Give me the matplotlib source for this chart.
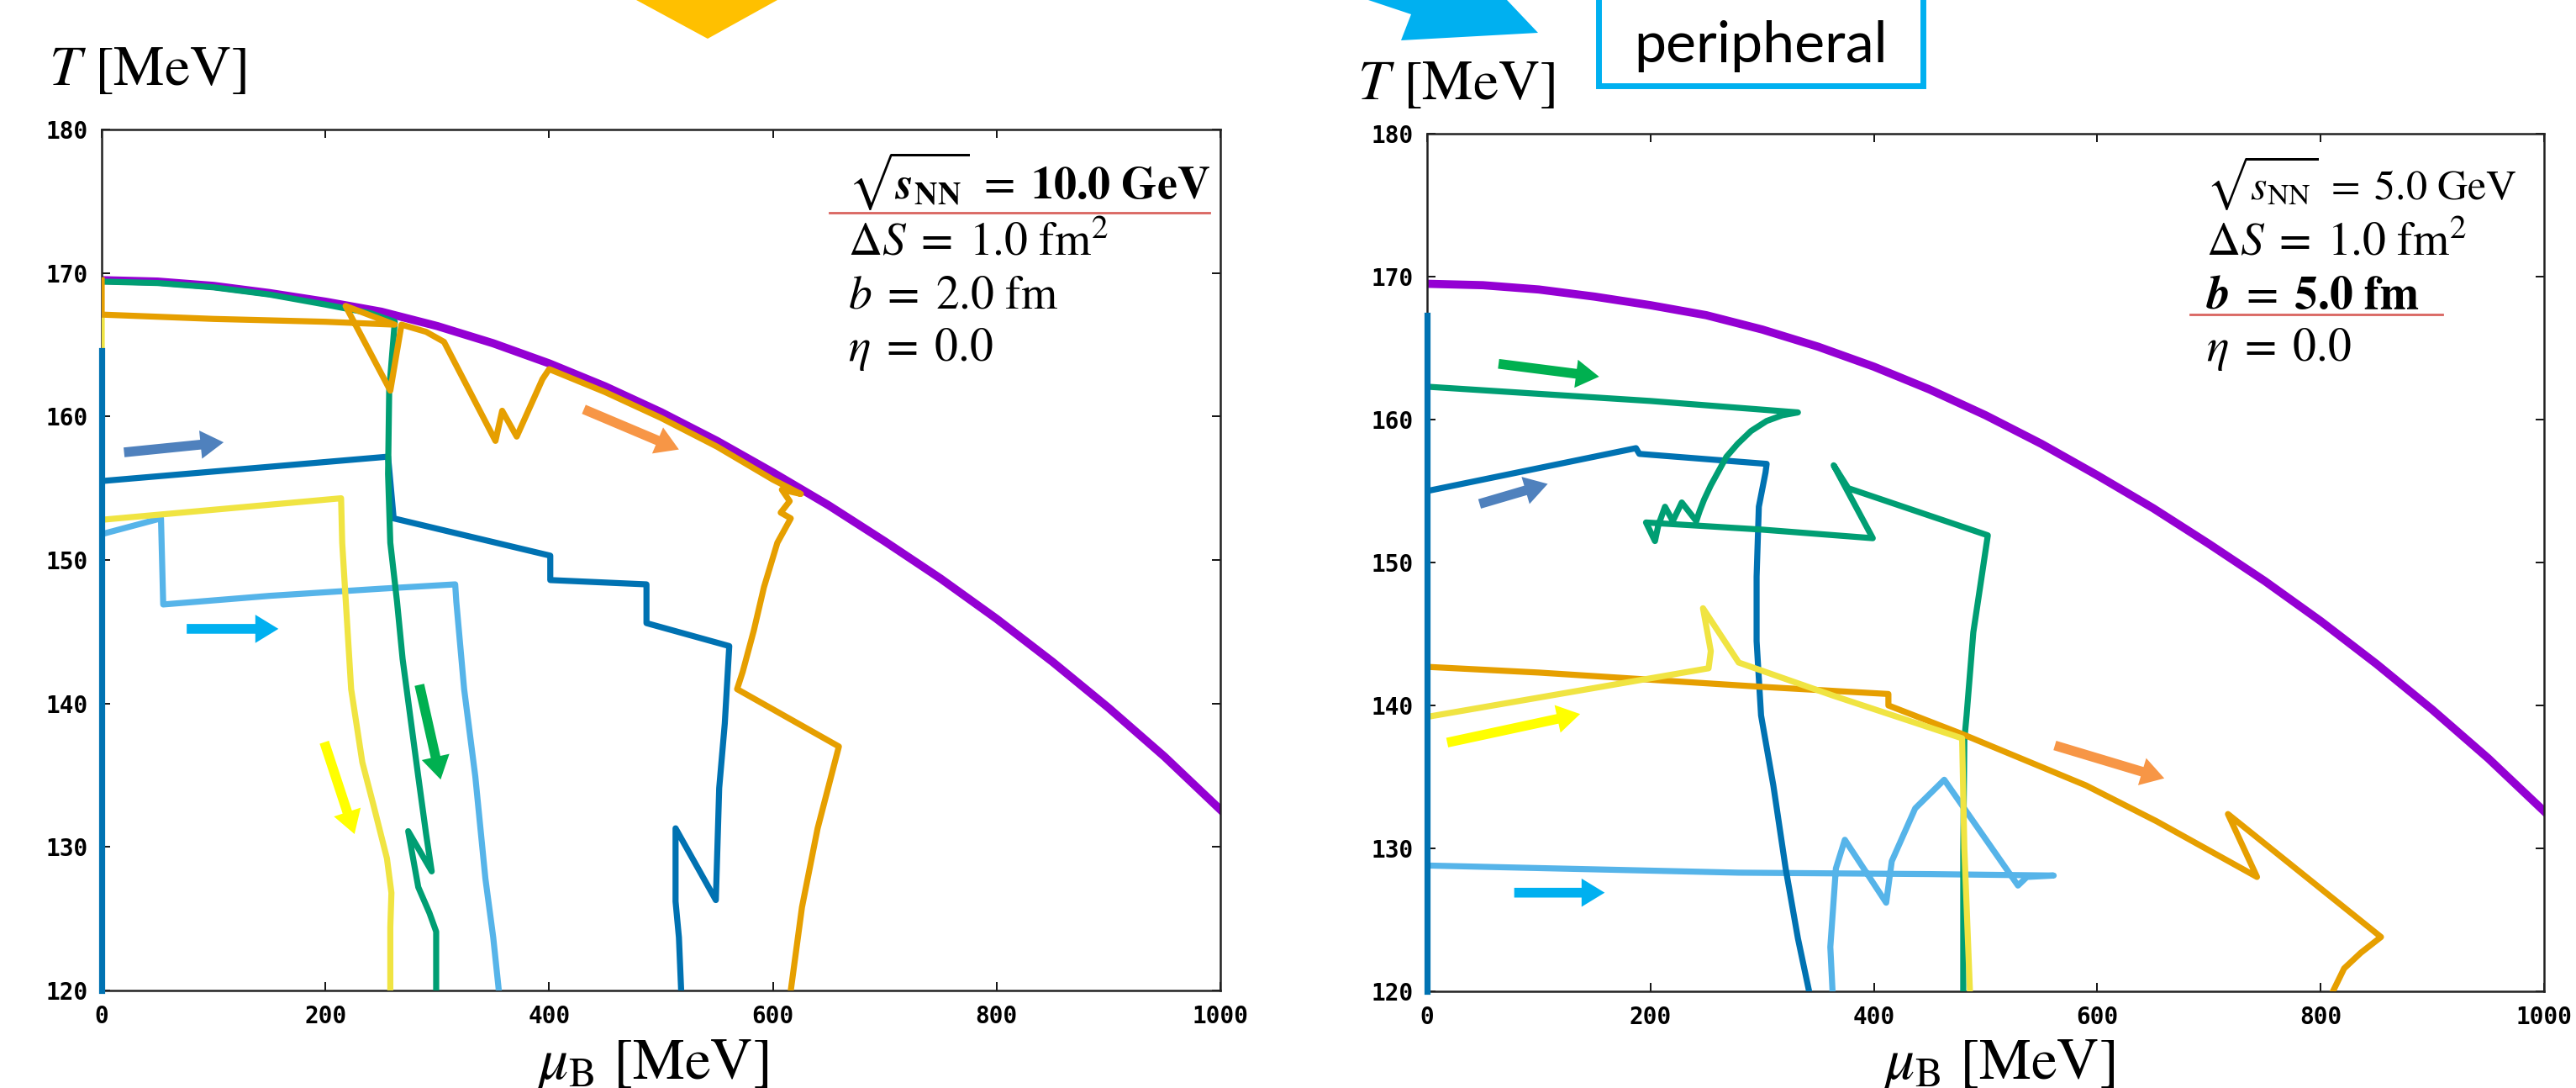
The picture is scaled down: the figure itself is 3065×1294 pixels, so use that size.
import matplotlib
matplotlib.use("Agg")
import matplotlib.pyplot as plt
from matplotlib.lines import Line2D
from matplotlib.patches import Polygon, Rectangle

plt.rcParams['mathtext.fontset'] = 'stix'
plt.rcParams['font.family'] = ['STIXGeneral', 'DejaVu Serif']

W, H = 3065, 1294

# ---- data ----
# boundary curve (same in both panels)
mu_bound = [0, 50, 100, 150, 200, 250, 300, 350, 400, 450, 500,
            550, 600, 650, 700, 750, 800, 850, 900, 950, 1000]
T_bound = [169.5, 169.4, 169.1, 168.6, 168.0, 167.3, 166.3, 165.1, 163.7, 162.1, 160.3,
           158.3, 156.1, 153.8, 151.3, 148.7, 145.9, 142.9, 139.7, 136.3, 132.6]

# left panel: sqrt(s)=10 GeV, b=2 fm
L_dblue_mu = [0, 256, 261, 401, 401, 487, 487, 561, 557, 552, 549, 513, 513, 516, 518]
L_dblue_T = [155.5, 157.2, 152.9, 150.3, 148.6, 148.3, 145.6, 144.0, 138.6, 134.1, 126.3,
             131.3, 126.2, 123.7, 120.0]
L_dblue_axis_mu = [0, 0]
L_dblue_axis_T = [164.6, 120.0]

L_lblue_mu = [0, 53, 55, 150, 250, 316, 317, 324, 334, 343, 350, 355]
L_lblue_T = [151.8, 152.9, 146.9, 147.5, 148.0, 148.3, 147.1, 141.0, 134.9, 127.8, 123.7, 120.0]

L_yellow_mu = [0, 0, 100, 214, 215, 219, 223, 233, 243, 255, 259, 258, 258]
L_yellow_T = [167.0, 152.8, 153.5, 154.3, 151.2, 146.1, 141.0, 135.9, 132.9, 129.2, 126.8,
              124.4, 120.0]

L_green_mu = [0, 50, 100, 150, 200, 240, 262, 257, 256, 258, 264, 269, 276, 283, 290,
              295, 274, 283, 293, 299, 299]
L_green_T = [169.4, 169.3, 169.0, 168.5, 167.8, 167.2, 166.6, 161.8, 156.0, 151.2, 147.1,
             143.1, 139.0, 134.9, 130.9, 128.3, 131.1, 127.2, 125.4, 124.1, 120.0]

L_orange_mu = [0, 0, 100, 200, 262, 218, 258, 268, 290, 306, 352, 358, 371, 394, 400,
               450, 500, 550, 600, 625, 608, 615, 607, 616, 604, 592, 583, 573, 568,
               659, 640, 626, 616]
L_orange_T = [169.5, 167.1, 166.8, 166.6, 166.4, 167.7, 161.8, 166.4, 165.9, 165.2, 158.3,
              160.4, 158.6, 162.6, 163.3, 161.7, 159.9, 157.9, 155.6, 154.6, 154.9, 154.1,
              153.3, 152.9, 151.2, 148.1, 145.1, 142.2, 141.0, 137.0, 131.3, 125.8, 120.0]

# right panel: sqrt(s)=5 GeV, b=5 fm
R_dblue_mu = [0, 187, 190, 304, 303, 297, 295, 295, 299, 310, 321, 332, 342]
R_dblue_T = [155.0, 158.0, 157.6, 156.9, 156.3, 153.9, 149.0, 144.5, 139.3, 134.4, 128.6,
             123.7, 120.0]
R_dblue_axis_mu = [0, 0]
R_dblue_axis_T = [167.3, 120.0]

R_lblue_mu = [0, 168, 279, 450, 561, 537, 529, 463, 437, 416, 411, 374, 366, 361, 363]
R_lblue_T = [128.8, 128.5, 128.3, 128.2, 128.1, 128.0, 127.4, 134.8, 132.8, 129.1, 126.2,
             130.6, 128.6, 123.1, 120.0]

R_green_mu = [0, 100, 200, 332, 318, 304, 290, 278, 268, 261, 254, 248, 244, 241, 228, 220,
              213, 207, 204, 196, 300, 399, 364, 377, 502, 498, 489, 483, 481, 480, 480]
R_green_T = [162.3, 161.8, 161.3, 160.5, 160.3, 159.9, 159.2, 158.3, 157.4, 156.4, 155.4,
             154.4, 153.6, 152.9, 154.2, 152.9, 153.9, 152.6, 151.5, 152.8, 152.3, 151.7,
             156.8, 155.2, 151.9, 149.8, 145.1, 139.3, 137.6, 129.8, 120.0]

R_orange_mu = [0, 100, 200, 300, 413, 413, 479, 590, 653, 743, 717, 854, 836, 821, 811]
R_orange_T = [142.7, 142.3, 141.8, 141.3, 140.8, 140.0, 138.0, 134.4, 131.9, 128.0, 132.4,
              123.8, 122.7, 121.6, 120.0]

R_yellow_mu = [0, 252, 254, 247, 279, 363, 479, 481, 486]
R_yellow_T = [139.2, 142.6, 143.8, 146.8, 143.0, 140.7, 137.7, 130.0, 120.0]

# direction arrows (tail, head) in data units
L_arrows = [((20, 157.5), (109, 158.2), '#4F81BD'),
            ((431, 160.5), (516, 157.7), '#F79646'),
            ((76, 145.2), (158, 145.2), '#00B0F0'),
            ((199, 137.3), (226, 130.9), '#FFFF00'),
            ((284, 141.3), (303, 134.7), '#00B050')]
R_arrows = [((64, 163.9), (154, 163.0), '#00B050'),
            ((47, 154.1), (108, 155.5), '#4F81BD'),
            ((18, 137.4), (137, 139.4), '#FFFF00'),
            ((562, 137.2), (660, 134.9), '#F79646'),
            ((78, 126.9), (159, 126.9), '#00B0F0')]

x_ticks = [0, 200, 400, 600, 800, 1000]
y_ticks = [120, 130, 140, 150, 160, 170, 180]

PURPLE = '#9400D3'
DBLUE = '#0072B2'
ORANGE = '#E69F00'
LBLUE = '#56B4E9'
GREEN = '#009E73'
YELLOW = '#F0E442'

fig = plt.figure(figsize=(W / 100, H / 100), dpi=100)


def px(x, y):
    return x / W, 1 - y / H


def setup(ax):
    ax.set_xlim(0, 1000)
    ax.set_ylim(120, 180)
    ax.set_xticks(x_ticks)
    ax.set_yticks(y_ticks)
    ax.tick_params(direction='in', length=7.5, width=1.3, top=True, right=True,
                   labelsize=20, pad=12)
    for lab in ax.get_xticklabels() + ax.get_yticklabels():
        lab.set_fontfamily('DejaVu Sans Mono')
        lab.set_fontweight('bold')
    for s in ax.spines.values():
        s.set_linewidth(1.8)
        s.set_color('#222222')


def draw_arrows(ax, arrows):
    for tail, head, c in arrows:
        ax.annotate('', xy=head, xytext=tail,
                    arrowprops=dict(arrowstyle='simple,head_length=0.9,head_width=1.1,tail_width=0.38',
                                    color=c, lw=0, mutation_scale=22, shrinkA=0, shrinkB=0))


lw = 5.2

# left panel
ax1 = fig.add_axes([121 / W, 1 - 1178 / H, 1331 / W, 1024 / H])
setup(ax1)
ax1.plot(mu_bound, T_bound, color=PURPLE, lw=7, zorder=2)
ax1.plot(L_lblue_mu, L_lblue_T, color=LBLUE, lw=lw, zorder=3)
ax1.plot(L_dblue_mu, L_dblue_T, color=DBLUE, lw=lw, zorder=4)
ax1.plot(L_yellow_mu, L_yellow_T, color=YELLOW, lw=lw, zorder=5)
ax1.plot(L_green_mu, L_green_T, color=GREEN, lw=lw, zorder=6)
ax1.plot(L_orange_mu, L_orange_T, color=ORANGE, lw=lw, zorder=7)
ax1.plot(L_dblue_axis_mu, L_dblue_axis_T, color=DBLUE, lw=lw, zorder=8, clip_on=False)
draw_arrows(ax1, L_arrows)

# right panel
ax2 = fig.add_axes([1698 / W, 1 - 1179 / H, 1329 / W, 1020 / H])
setup(ax2)
ax2.plot(mu_bound, T_bound, color=PURPLE, lw=7, zorder=2)
ax2.plot(R_lblue_mu, R_lblue_T, color=LBLUE, lw=lw, zorder=3)
ax2.plot(R_dblue_mu, R_dblue_T, color=DBLUE, lw=lw, zorder=4)
ax2.plot(R_green_mu, R_green_T, color=GREEN, lw=lw, zorder=5)
ax2.plot(R_orange_mu, R_orange_T, color=ORANGE, lw=lw, zorder=6)
ax2.plot(R_yellow_mu, R_yellow_T, color=YELLOW, lw=lw, zorder=7)
ax2.plot(R_dblue_axis_mu, R_dblue_axis_T, color=DBLUE, lw=lw, zorder=8, clip_on=False)
draw_arrows(ax2, R_arrows)

# parameter texts
left_lines = [r'$\sqrt{\mathbfit{s}_{\mathbf{NN}}}\; =\; \mathbf{10.0\ GeV}$',
              r'$\Delta S\; =\; 1.0\ \mathrm{fm}^2$',
              r'$b\; =\; 2.0\ \mathrm{fm}$',
              r'$\eta\; =\; 0.0$']
right_lines = [r'$\sqrt{s_{\mathrm{NN}}}\; =\; 5.0\ \mathrm{GeV}$',
               r'$\Delta S\; =\; 1.0\ \mathrm{fm}^2$',
               r'$\mathbfit{b}\; =\; \mathbf{5.0\ fm}$',
               r'$\eta\; =\; 0.0$']
left_sizes = [39, 40, 40, 40]
right_sizes = [36, 40, 40, 40]
baselines = [237, 304, 367, 429]
for s, fs, yb in zip(left_lines, left_sizes, baselines):
    fig.text(*px(1009, yb), s, fontsize=fs, va='baseline', ha='left')
for s, fs, yb in zip(right_lines, right_sizes, baselines):
    fig.text(*px(2625, yb), s, fontsize=fs, va='baseline', ha='left')

fig.add_artist(Line2D([987 / W, 1439 / W], [1 - 253 / H, 1 - 253 / H],
                      color='#D9645F', lw=2, transform=fig.transFigure))
fig.add_artist(Line2D([2606 / W, 2906 / W], [1 - 374 / H, 1 - 374 / H],
                      color='#D9645F', lw=2, transform=fig.transFigure))

# axis labels
fig.text(*px(58, 101), r'$T\ [\mathrm{MeV}]$', fontsize=49, va='baseline', ha='left')
fig.text(*px(1615, 118), r'$T\ [\mathrm{MeV}]$', fontsize=49, va='baseline', ha='left')
fig.text(*px(776, 1283), r'$\mu_{\mathrm{B}}\ [\mathrm{MeV}]$', fontsize=50,
         va='baseline', ha='center')
fig.text(*px(2378, 1283), r'$\mu_{\mathrm{B}}\ [\mathrm{MeV}]$', fontsize=50,
         va='baseline', ha='center')

# slide decorations cut off at the top
tri = [px(757, 0), px(925, 0), px(842, 46)]
fig.add_artist(Polygon(tri, closed=True, transform=fig.transFigure,
                       facecolor='#FFC000', edgecolor='none'))
blk = [px(1628, 0), px(1679, 17), px(1667, 48), px(1830, 39), px(1793, 0)]
fig.add_artist(Polygon(blk, closed=True, transform=fig.transFigure,
                       facecolor='#00B0F0', edgecolor='none'))
x0, y0 = px(1902, 102)
fig.add_artist(Rectangle((x0, y0), (2288 - 1902) / W, 140 / H, transform=fig.transFigure,
                         facecolor='white', edgecolor='#00B0F0', lw=5))
fig.text(*px(2095, 74), 'peripheral', fontsize=49, family='Lato',
         va='baseline', ha='center')

fig.savefig('out.png', dpi=100)
